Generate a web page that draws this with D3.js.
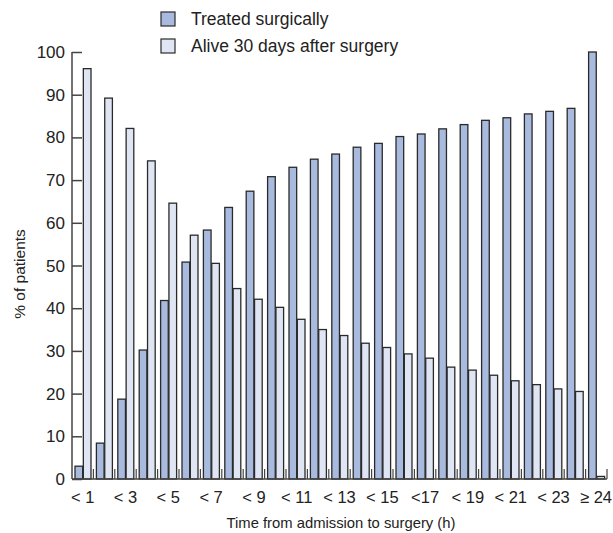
<!DOCTYPE html>
<html lang="en">
<head>
<meta charset="UTF-8"/>
<title>Time from admission to surgery</title>
<script src="https://d3js.org/d3.v7.min.js"></script>
<style>
  body { margin: 0; background: #fff; }
  text { font-family: "Liberation Sans", Arial, sans-serif; fill: #222; }
</style>
</head>
<body>
<script>
// categories (hours from admission to surgery)
var categories = ["< 1","< 2","< 3","< 4","< 5","< 6","< 7","< 8","< 9","< 10","< 11","< 12",
                  "< 13","< 14","< 15","< 16","< 17","< 18","< 19","< 20","< 21","< 22","< 23","< 24","≥ 24"];
var tickLabels = ["< 1","< 3","< 5","< 7","< 9","< 11","< 13","< 15","<17","< 19","< 21","< 23","≥ 24"];
var tickCats = ["< 1","< 3","< 5","< 7","< 9","< 11","< 13","< 15","< 17","< 19","< 21","< 23","≥ 24"];
var treated = [3.0, 8.4, 18.7, 30.2, 41.8, 50.8, 58.3, 63.6, 67.4, 70.8, 73.0, 74.9,
               76.1, 77.7, 78.6, 80.2, 80.8, 82.0, 83.0, 84.0, 84.6, 85.5, 86.1, 86.8, 100];
var alive = [96.1, 89.2, 82.1, 74.5, 64.6, 57.1, 50.5, 44.6, 42.1, 40.2, 37.4, 35.0,
             33.6, 31.8, 30.8, 29.3, 28.3, 26.2, 25.5, 24.3, 23.0, 22.1, 21.1, 20.5, 0.6];
var seriesNames = ["Treated surgically", "Alive 30 days after surgery"];
var yTicks = [0,10,20,30,40,50,60,70,80,90,100];

var w = 613, h = 533;
var colTreated = "#a8bade", colAlive = "#dfe5f3", stroke = "#2a2a2a";

var svg = d3.select("body").append("svg").attr("width", w).attr("height", h);

var x = d3.scaleBand().domain(categories).range([72, 607]);
var y = d3.scaleLinear().domain([0, 100]).range([479, 52]);
var sub = d3.scaleBand().domain(["t","a"]).range([3, 19]).paddingInner(0.08);

// bars
var g = svg.append("g");
categories.forEach(function(c, i) {
  g.append("rect")
    .attr("x", x(c) + sub("t")).attr("y", y(treated[i]))
    .attr("width", sub.bandwidth()).attr("height", y(0) - y(treated[i]))
    .attr("fill", colTreated).attr("stroke", stroke).attr("stroke-width", 1.3);
  g.append("rect")
    .attr("x", x(c) + sub("a")).attr("y", y(alive[i]))
    .attr("width", sub.bandwidth()).attr("height", y(0) - y(alive[i]))
    .attr("fill", colAlive).attr("stroke", stroke).attr("stroke-width", 1.3);
});

// small ticks between groups
svg.append("g").selectAll("line")
  .data(categories)
  .enter().append("line")
  .attr("x1", function(d){ return x(d) + x.bandwidth(); })
  .attr("x2", function(d){ return x(d) + x.bandwidth(); })
  .attr("y1", y(0)).attr("y2", y(0) - 10)
  .attr("stroke", "#444").attr("stroke-width", 1.2);

// y axis (ticks inside)
var yAxis = d3.axisRight(y).tickValues(yTicks).tickSize(10).tickFormat("");
var ya = svg.append("g").attr("transform", "translate(72,0)").call(yAxis);
ya.select(".domain").attr("d", "M0," + y(100) + "V" + y(0)).attr("stroke", "#444").attr("stroke-width", 1.5);
ya.selectAll(".tick line").attr("stroke", "#444").attr("stroke-width", 1.5);
svg.append("g").selectAll("text")
  .data(yTicks).enter().append("text")
  .attr("x", 65).attr("y", function(d){ return y(d) + 6; })
  .attr("text-anchor", "end").attr("font-size", 17)
  .text(function(d){ return d; });

// x baseline
svg.append("line").attr("x1", 72).attr("x2", 607).attr("y1", y(0)).attr("y2", y(0))
  .attr("stroke", "#444").attr("stroke-width", 1.5);

// x labels
svg.append("g").selectAll("text")
  .data(tickCats).enter().append("text")
  .attr("x", function(d, i){ return i === tickCats.length - 1 ? 612 : x(d) + x.bandwidth() / 2; })
  .attr("y", 503)
  .attr("text-anchor", function(d, i){ return i === tickCats.length - 1 ? "end" : "middle"; })
  .attr("font-size", 16.5)
  .text(function(d, i){ return tickLabels[i]; });

// axis titles
svg.append("text").attr("x", 341).attr("y", 528).attr("text-anchor", "middle")
  .attr("font-size", 14.8).text("Time from admission to surgery (h)");
svg.append("text").attr("transform", "translate(25,274) rotate(-90)")
  .attr("text-anchor", "middle").attr("font-size", 15.5).text("% of patients");

// legend
var leg = svg.append("g");
[colTreated, colAlive].forEach(function(c, i) {
  leg.append("rect").attr("x", 161).attr("y", 12 + i * 27).attr("width", 14).attr("height", 14)
    .attr("fill", c).attr("stroke", stroke).attr("stroke-width", 1.2);
  leg.append("text").attr("x", 191).attr("y", 25 + i * 27).attr("font-size", 17.5)
    .text(seriesNames[i]);
});
</script>
</body>
</html>
